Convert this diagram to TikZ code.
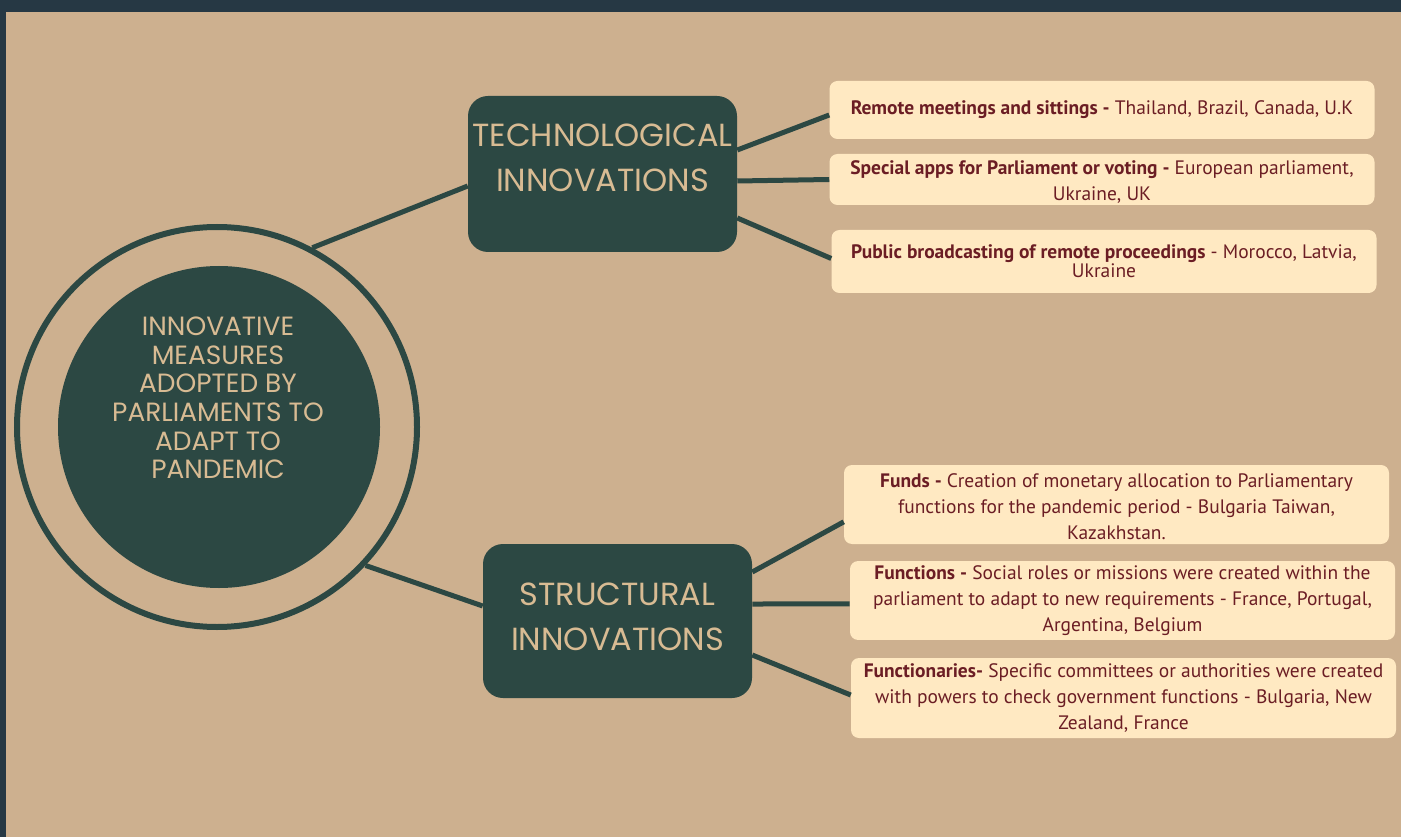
\documentclass[tikz,border=0pt]{standalone}
\usepackage{fontspec}
\setmainfont{PT Sans}
\newfontfamily\headfont{Poppins}
\usepackage{xcolor}
\usetikzlibrary{positioning,calc}
\definecolor{frameDark}{HTML}{263844}
\definecolor{paper}{HTML}{CDB08F}
\definecolor{pine}{HTML}{2C4843}
\definecolor{sand}{HTML}{D8BB93}
\definecolor{cream}{HTML}{FFE9C2}
\definecolor{wine}{HTML}{6B1D24}
\tikzset{
  ring/.style={circle, draw=pine, line width=4.5pt, minimum size=300pt, inner sep=0pt},
  hub/.style={circle, fill=pine, minimum size=241.5pt, inner sep=0pt},
  hubtext/.style={text=sand, align=center, font=\headfont\fontsize{19.8}{21.4}\selectfont},
  catbox/.style={rectangle, rounded corners=15pt, fill=pine, minimum width=201.75pt, align=center, text=sand, font=\headfont\fontsize{24}{33.75}\selectfont},
  infobox/.style={rectangle, rounded corners=6pt, fill=cream, minimum width=408.75pt, align=center, text=wine, font=\fontsize{14.6}{19.5}\selectfont},
  link/.style={line width=3.75pt, draw=pine}
}

\begin{document}
\begin{tikzpicture}[x=0.75pt, y=-0.75pt]
  \fill[frameDark] (0,0) rectangle (1401,837);
  \fill[paper] (6,12) rectangle (1401,837);
  \useasboundingbox (0,0) rectangle (1401,837);

  \node[ring] (ring) at (217,427) {};
  \node[hub] (hub) at (219,427) {};
  \node[hubtext] (title) at (218,398) {INNOVATIVE\\MEASURES\\ADOPTED BY\\PARLIAMENTS TO\\ADAPT TO\\PANDEMIC};

  \node[catbox, minimum height=117pt, text depth=25pt] (tech) at (602.5,174) {TECHNOLOGICAL\\INNOVATIONS};
  \node[catbox, minimum height=115.5pt, text depth=7pt] (struct) at (617.5,621) {STRUCTURAL\\INNOVATIONS};

  \node[infobox, minimum height=43.5pt] (remote) at (1102,110) {\textbf{Remote meetings and sittings -} Thailand, Brazil, Canada, U.K};
  \node[infobox, minimum height=38.25pt, inner ysep=0pt, text height=33pt] (apps) at (1102,179.5) {\textbf{Special apps for Parliament or voting -} European parliament,\\Ukraine, UK};
  \node[infobox, minimum height=47.25pt, font=\fontsize{14.6}{14.5}\selectfont] (broadcast) at (1104,261.5) {\textbf{Public broadcasting of remote proceedings} - Morocco, Latvia,\\Ukraine};
  \node[infobox, minimum height=59.25pt, inner ysep=0pt, text height=52pt] (funds) at (1116.5,504.5) {\textbf{Funds -} Creation of monetary allocation to Parliamentary\\functions for the pandemic period - Bulgaria Taiwan,\\Kazakhstan.};
  \node[infobox, minimum height=56.25pt] (functions) at (1122.5,600.5) {\textbf{Functions -} Social roles or missions were created within the\\parliament to adapt to new requirements - France, Portugal,\\Argentina, Belgium};
  \node[infobox, minimum height=60pt] (officials) at (1123.5,698) {\textbf{Functionaries-} Specific committees or authorities were created\\with powers to check government functions - Bulgaria, New\\Zealand, France};

  \draw[link] (ring.62) -- ([yshift=-9pt]tech.west);
  \draw[link] (ring.-43) -- ([yshift=11.25pt]struct.west);
  \draw[link] ([yshift=18pt]tech.east) -- ([yshift=-3.75pt]remote.west);
  \draw[link] ([yshift=-5.25pt]tech.east) -- (apps.west);
  \draw[link] ([yshift=-33pt]tech.east) -- ([yshift=2.25pt]broadcast.west);
  \draw[link] ([yshift=36.75pt]struct.east) -- ([yshift=-13pt]funds.west);
  \draw[link] ([yshift=12.75pt]struct.east) -- ([yshift=-2.6pt]functions.west);
  \draw[link] ([yshift=-25.5pt]struct.east) -- ([yshift=2.25pt]officials.west);
\end{tikzpicture}
\end{document}
